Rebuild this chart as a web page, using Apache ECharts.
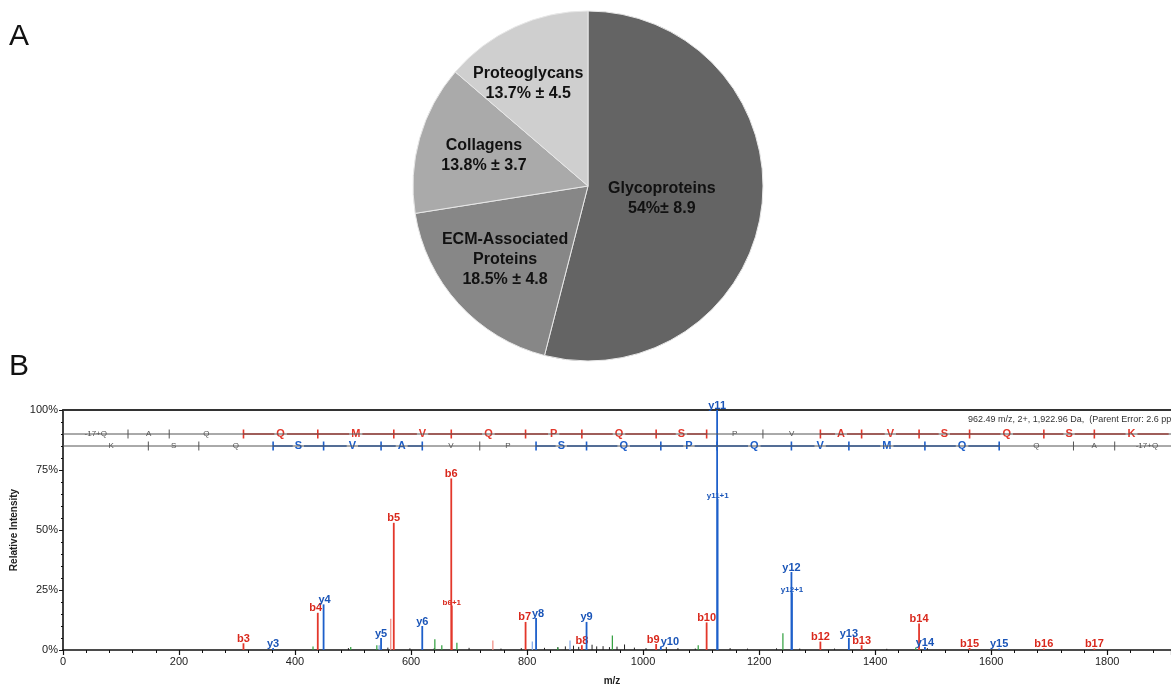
<!DOCTYPE html>
<html><head><meta charset="utf-8">
<script src="https://cdn.jsdelivr.net/npm/echarts@6/dist/echarts.min.js"></script>
<style>html,body{margin:0;padding:0;background:#fff}#c{width:1171px;height:688px}</style>
</head><body><div id="c"></div>
<script>
// ---------- Panel A data ----------
const pieNames = ['Glycoproteins', 'ECM-Associated Proteins', 'Collagens', 'Proteoglycans'];
const pieValues = [54, 18.5, 13.8, 13.7];
const pieLabels = ['Glycoproteins\n54%\u00b1 8.9', 'ECM-Associated\nProteins\n18.5% \u00b1 4.8', 'Collagens\n13.8% \u00b1 3.7', 'Proteoglycans\n13.7% \u00b1 4.5'];

// ---------- Panel B data ----------
const bIonLabels = ['b3', 'b4', 'b5', 'b6', 'b7', 'b8', 'b9', 'b10', 'b12', 'b13', 'b14', 'b15', 'b16', 'b17'];
const bIonMz = [311.1, 439.2, 570.2, 669.3, 797.4, 894.4, 1022.5, 1109.5, 1305.6, 1376.7, 1475.7, 1562.8, 1690.8, 1777.9];
const bIonInt = [2.8, 15.5, 53, 71.5, 11.7, 2, 2.5, 11.5, 3.5, 2, 11, 0.8, 0.6, 0.6];

const yIonLabels = ['y3', 'y4', 'y5', 'y6', 'y8', 'y9', 'y10', 'y11', 'y12', 'y13', 'y14', 'y15'];
const yIonMz = [362.2, 449.2, 548.3, 619.3, 815.5, 902.5, 1030.6, 1127.6, 1255.7, 1354.7, 1485.8, 1613.8];
const yIonInt = [0.8, 19, 5, 10, 13.3, 11.7, 1.5, 100, 32.5, 5, 1.2, 0.6];

const isoLabels = ['b6+1', 'y11+1', 'y12+1'];
const isoMz = [670.3, 1128.6, 1256.7];
const isoInt = [18.5, 63, 24];
const isoIsB = [true, false, false];

const greenMz = [431, 496, 541, 641, 653, 679, 853, 947, 1095, 1241, 1470];
const greenInt = [1.5, 1.2, 2, 4.5, 2, 3, 1, 6, 2, 7, 1];

const faintRedMz = [741, 565];
const faintRedInt = [4, 13];
const faintBlueMz = [809, 874, 545];
const faintBlueInt = [3.5, 4, 2];

const noiseMz = [492, 560, 598, 640, 700, 755, 790, 830, 853, 866, 880, 889, 912, 920, 931, 942, 955, 968, 985, 1005, 1040, 1060, 1090, 1150, 1180, 1230, 1270, 1330, 1420, 1490];
const noiseInt = [0.8, 1.0, 0.7, 0.8, 0.9, 0.6, 0.8, 0.9, 1.2, 1.5, 1.8, 1.3, 2.2, 1.5, 1.6, 1.2, 1.4, 2.3, 1.0, 0.8, 1.2, 0.8, 0.6, 0.8, 0.6, 0.7, 0.6, 0.6, 0.5, 0.8];

// sequence ladders
const bResidues = ['-17+Q', 'A', 'Q', 'Q', 'M', 'V', 'Q', 'P', 'Q', 'S', 'P', 'V', 'A', 'V', 'S', 'Q', 'S', 'K'];
const bLadder = [1.0, 112.05, 183.08, 311.14, 439.20, 570.24, 669.31, 797.37, 894.42, 1022.48, 1109.51, 1206.57, 1305.63, 1376.67, 1475.74, 1562.77, 1690.83, 1777.86, 1905.96];
const bCovered = [0, 0, 0, 1, 1, 1, 1, 1, 1, 1, 0, 0, 1, 1, 1, 1, 1, 1];

const yResidues = ['K', 'S', 'Q', 'S', 'V', 'A', 'V', 'P', 'S', 'Q', 'P', 'Q', 'V', 'M', 'Q', 'Q', 'A', '-17+Q'];
const yLadder = [19.02, 147.11, 234.14, 362.20, 449.23, 548.30, 619.34, 718.41, 815.46, 902.49, 1030.55, 1127.60, 1255.66, 1354.73, 1485.77, 1613.83, 1741.89, 1812.93, 1923.96];
const yCovered = [0, 0, 0, 1, 1, 1, 0, 0, 1, 1, 1, 1, 1, 1, 1, 0, 0, 0];

const xTicks = [0, 200, 400, 600, 800, 1000, 1200, 1400, 1600, 1800];
const yTicks = [0, 25, 50, 75, 100];

// ---------- styling ----------
const FONT = '"Liberation Sans", Arial, Helvetica, sans-serif';
const RED = '#e3372b', RED_T = '#d9281c';
const BLUE = '#1d5fca', BLUE_T = '#1a55b8';
const GREEN = '#2e9e3c';
const pieColors = ['#646464', '#878787', '#aaaaaa', '#cfcfcf'];
const pieOffsets = [[-16, 1], [-16, 13], [-17, -6], [-22, -20]];
// label nudges (pixels) to keep adjacent peak labels apart, as in the reference
const labelNudge = { b9: -3, y10: 9, b7: -1, y8: 2, y4: 1, b4: -2 };
const XMAX = 1910;

function stickSeries(mz, inten, color, width, labels, labelFont, labelColor) {
  return {
    type: 'custom', xAxisIndex: 0, yAxisIndex: 0, silent: true, clip: false, animation: false,
    data: mz.map((m, i) => [m, inten[i]]),
    renderItem(params, api) {
      const x = api.value(0), y = api.value(1);
      const a = api.coord([x, 0]), b = api.coord([x, y]);
      const ch = [{ type: 'line', shape: { x1: a[0], y1: a[1], x2: b[0], y2: b[1] }, style: { stroke: color, lineWidth: width } }];
      if (labels) {
        const t = labels[params.dataIndex];
        ch.push({ type: 'text', x: b[0] + (labelNudge[t] || 0), y: b[1] + 1, style: { text: t, fill: labelColor, font: labelFont, align: 'center', verticalAlign: 'bottom' } });
      }
      return { type: 'group', children: ch };
    }
  };
}

function ladderSeries(residues, ladder, covered, rowY, color) {
  return {
    type: 'custom', xAxisIndex: 0, yAxisIndex: 0, silent: true, clip: false, animation: false,
    data: residues.map((r, i) => [ladder[i], ladder[i + 1], rowY, i]),
    renderItem(params, api) {
      const i = params.dataIndex;
      const p0 = api.coord([api.value(0), rowY]);
      const p1 = api.coord([api.value(1), rowY]);
      const cov = covered[i] === 1;
      const ch = [];
      if (cov) {
        ch.push({ type: 'line', shape: { x1: p0[0], y1: p0[1], x2: p1[0], y2: p1[1] }, style: { stroke: color, lineWidth: 1.6 } });
      }
      if (i < residues.length - 1) {
        const tc = cov || covered[i + 1] === 1;
        ch.push({ type: 'line', shape: { x1: p1[0], y1: p1[1] - 4.5, x2: p1[0], y2: p1[1] + 4.5 }, style: { stroke: tc ? color : '#555', lineWidth: tc ? 1.6 : 1 } });
      }
      ch.push({
        type: 'text', x: (p0[0] + p1[0]) / 2, y: p0[1],
        style: {
          text: residues[i], fill: cov ? color : '#555',
          font: (cov ? 'bold 11px ' : '8px ') + FONT, align: 'center', verticalAlign: 'middle',
          backgroundColor: '#fff', padding: cov ? [0, 2] : [0, 3]
        }
      });
      return { type: 'group', children: ch };
    }
  };
}

const chart = echarts.init(document.getElementById('c'), null, { renderer: 'canvas' });

const option = {
  backgroundColor: '#fff',
  animation: false,
  textStyle: { fontFamily: FONT },
  graphic: [
    { type: 'text', left: 9, top: 22, style: { text: 'A', font: '30px ' + FONT, fill: '#111' } },
    { type: 'text', left: 9, top: 352, style: { text: 'B', font: '30px ' + FONT, fill: '#111' } },
    { type: 'text', left: 968, top: 415, style: { text: '962.49 m/z, 2+, 1,922.96 Da,  (Parent Error: 2.6 ppm)', font: '9px ' + FONT, fill: '#333' } }
  ],
  grid: { left: 63, right: 1171 - 63 - 1108, top: 410, bottom: 38, containLabel: false },
  xAxis: [{
    type: 'value', min: 0, max: XMAX, interval: 200, position: 'bottom',
    axisLine: { show: true, onZero: false, lineStyle: { color: '#111', width: 1.6 } },
    axisTick: { show: true, length: 5, lineStyle: { color: '#111', width: 1.2 } },
    minorTick: { show: true, splitNumber: 5, length: 3, lineStyle: { color: '#111', width: 1 } },
    splitLine: { show: false },
    axisLabel: { fontSize: 11, color: '#222', margin: 6, showMaxLabel: false, fontFamily: FONT,
      formatter: v => (xTicks.indexOf(v) >= 0 ? String(v) : '') },
    name: 'm/z', nameLocation: 'middle', nameGap: 26,
    nameTextStyle: { fontSize: 10, color: '#222', fontWeight: 'bold', fontFamily: FONT, padding: [0, 10, 0, 0] }
  }, {
    type: 'value', min: 0, max: XMAX, position: 'top',
    axisLine: { show: true, onZero: false, lineStyle: { color: '#333', width: 2 } },
    axisTick: { show: false }, axisLabel: { show: false }, splitLine: { show: false }
  }],
  yAxis: [{
    type: 'value', min: 0, max: 100, interval: 25,
    axisLine: { show: true, onZero: false, lineStyle: { color: '#111', width: 1.6 } },
    axisTick: { show: true, length: 4, lineStyle: { color: '#111' } },
    minorTick: { show: true, splitNumber: 5, length: 2, lineStyle: { color: '#111' } },
    splitLine: { show: false },
    axisLabel: { fontSize: 11, color: '#222', margin: 5, fontFamily: FONT,
      formatter: v => (yTicks.indexOf(v) >= 0 ? v + '%' : '') },
    name: 'Relative Intensity', nameLocation: 'middle', nameGap: 39, nameRotate: 90,
    nameTextStyle: { fontSize: 10, color: '#222', fontWeight: 'bold', fontFamily: FONT }
  }],
  series: [
    {
      type: 'pie', center: [588, 186], radius: 175, startAngle: 90, clockwise: true,
      silent: true, animation: false, avoidLabelOverlap: false,
      itemStyle: { borderColor: '#e8e8e8', borderWidth: 1 },
      label: { show: true, position: 'inside', color: '#111', fontSize: 16, fontWeight: 'bold', lineHeight: 20, fontFamily: FONT },
      labelLine: { show: false },
      data: pieNames.map((n, i) => ({
        name: n, value: pieValues[i],
        itemStyle: { color: pieColors[i] },
        label: { formatter: pieLabels[i], offset: pieOffsets[i] }
      }))
    },
    // sequence base lines
    { type: 'line', xAxisIndex: 0, yAxisIndex: 0, silent: true, symbol: 'none', animation: false,
      data: [[0, 90], [XMAX, 90]], lineStyle: { color: '#555', width: 1 } },
    { type: 'line', xAxisIndex: 0, yAxisIndex: 0, silent: true, symbol: 'none', animation: false,
      data: [[0, 85], [XMAX, 85]], lineStyle: { color: '#555', width: 1 } },
    ladderSeries(bResidues, bLadder, bCovered, 90, RED),
    ladderSeries(yResidues, yLadder, yCovered, 85, BLUE),
    // peaks
    stickSeries(noiseMz, noiseInt, '#222', 1),
    stickSeries(greenMz, greenInt, GREEN, 1.2),
    stickSeries(faintRedMz, faintRedInt, '#f08a80', 1.2),
    stickSeries(faintBlueMz, faintBlueInt, '#7fa6e6', 1.2),
    stickSeries(isoMz.filter((m, i) => isoIsB[i]), isoInt.filter((m, i) => isoIsB[i]), RED, 1.6,
      isoLabels.filter((m, i) => isoIsB[i]), 'bold 8px ' + FONT, RED_T),
    stickSeries(isoMz.filter((m, i) => !isoIsB[i]), isoInt.filter((m, i) => !isoIsB[i]), BLUE, 1.6,
      isoLabels.filter((m, i) => !isoIsB[i]), 'bold 8px ' + FONT, BLUE_T),
    stickSeries(bIonMz, bIonInt, RED, 1.8, bIonLabels, 'bold 11px ' + FONT, RED_T),
    stickSeries(yIonMz, yIonInt, BLUE, 1.8, yIonLabels, 'bold 11px ' + FONT, BLUE_T)
  ]
};
chart.setOption(option);
</script>
</body></html>
